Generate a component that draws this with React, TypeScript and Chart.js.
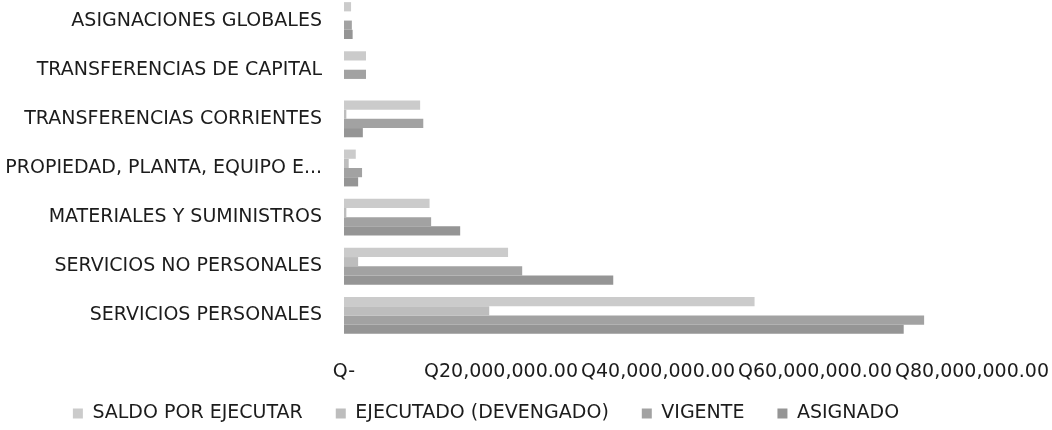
import React, { useEffect, useRef } from "react";
import { Chart, registerables } from "chart.js";

Chart.register(...registerables);

const categories = [
  "ASIGNACIONES GLOBALES",
  "TRANSFERENCIAS DE CAPITAL",
  "TRANSFERENCIAS CORRIENTES",
  "PROPIEDAD, PLANTA, EQUIPO E...",
  "MATERIALES Y SUMINISTROS",
  "SERVICIOS NO PERSONALES",
  "SERVICIOS PERSONALES",
];

const saldoPorEjecutar = [900000, 2800000, 9700000, 1500000, 10900000, 20900000, 52300000];
const ejecutadoDevengado = [0, 0, 300000, 600000, 300000, 1800000, 18500000];
const vigente = [1000000, 2800000, 10100000, 2300000, 11100000, 22700000, 73900000];
const asignado = [1100000, 0, 2400000, 1800000, 14800000, 34300000, 71300000];

const seriesNames = ["SALDO POR EJECUTAR", "EJECUTADO (DEVENGADO)", "VIGENTE", "ASIGNADO"];
const seriesColors = ["#cbcbcb", "#bdbdbd", "#a2a2a2", "#959595"];

const xTickLabels = ["Q-", "Q20,000,000.00", "Q40,000,000.00", "Q60,000,000.00", "Q80,000,000.00"];
const xMax = 80000000;
const xStep = 20000000;

const FONT = "'DejaVu Sans', sans-serif";
const TEXT = "#1c1c1c";

export default function App() {
  const canvasRef = useRef<HTMLCanvasElement | null>(null);

  useEffect(() => {
    document.documentElement.style.overflow = "hidden";
    document.body.style.overflow = "hidden";
    const canvas = canvasRef.current;
    if (!canvas) return;
    const values = [saldoPorEjecutar, ejecutadoDevengado, vigente, asignado];
    const chart = new Chart(canvas, {
      type: "bar",
      data: {
        labels: categories,
        datasets: seriesNames.map((name, i) => ({
          label: name,
          data: values[i],
          backgroundColor: seriesColors[i],
          borderWidth: 0,
          barPercentage: 1.0,
          categoryPercentage: 0.75,
        })),
      },
      options: {
        indexAxis: "y",
        animation: false,
        responsive: false,
        devicePixelRatio: 1,
        layout: { padding: { left: 0, right: 80, top: 0, bottom: 0 } },
        plugins: {
          tooltip: { enabled: false },
          legend: {
            position: "bottom",
            labels: {
              boxWidth: 10,
              boxHeight: 10,
              padding: 33,
              color: TEXT,
              font: { family: FONT, size: 19 },
            },
          },
        },
        scales: {
          x: {
            min: 0,
            max: xMax,
            grid: { display: false, drawTicks: false },
            border: { display: false },
            ticks: {
              stepSize: xStep,
              autoSkip: false,
              maxRotation: 0,
              padding: 21,
              color: TEXT,
              font: { family: FONT, size: 19 },
              callback: (_v: any, i: number) => xTickLabels[i],
            },
            afterFit: (s: any) => {
              s.height = 31;
              s.paddingLeft = 0;
              s.paddingRight = 0;
              s._computeLabelArea = () => undefined;
            },
          },
          y: {
            grid: { display: false, drawTicks: false },
            border: { display: false },
            ticks: {
              autoSkip: false,
              padding: 22,
              color: TEXT,
              font: { family: FONT, size: 19 },
            },
            afterFit: (s: any) => {
              s.width = 344;
              s.paddingTop = 0;
              s.paddingBottom = 0;
            },
          },
        },
      },
    });
    return () => chart.destroy();
  }, []);

  return (
    <div style={{ position: "absolute", left: 0, top: -4, width: 1052, height: 437 }}>
      <canvas ref={canvasRef} width={1052} height={437} style={{ width: 1052, height: 437, display: "block" }} />
    </div>
  );
}
